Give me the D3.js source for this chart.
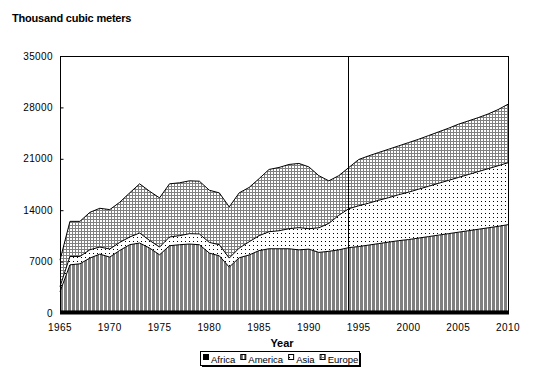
<!DOCTYPE html>
<html>
<head>
<meta charset="utf-8">
<script src="https://cdn.jsdelivr.net/npm/d3@7"></script>
<style>
  body { margin: 0; background: #fff; }
  svg text { font-family: Arial, "Liberation Sans", sans-serif; }
</style>
</head>
<body>
<div class="wrapper"></div>
<script>
var years = d3.range(1965, 2011);
var regions = ["Africa", "America", "Asia", "Europe"];
var yTicks = [0, 7000, 14000, 21000, 28000, 35000];
var xTicks = [1965, 1970, 1975, 1980, 1985, 1990, 1995, 2000, 2005, 2010];
var dividerYear = 1994;

var africa = [280, 280, 280, 280, 280, 280, 280, 280, 280, 280, 280, 280, 280, 280, 280, 280,
  280, 280, 280, 280, 280, 280, 280, 280, 280, 280, 280, 280, 280, 280, 280, 280, 280, 280, 280,
  280, 280, 280, 280, 280, 280, 280, 280, 280, 280, 280];
var america = [2620, 6280, 6420, 7200, 7740, 7330, 8240, 9020, 9250, 8560, 7650, 8880, 9020, 9110,
  9020, 7880, 7510, 5970, 7240, 7620, 8220, 8470, 8470, 8470, 8320, 8420, 7970, 8120, 8320, 8620,
  8770, 8970, 9170, 9370, 9570, 9720, 9920, 10120, 10320, 10520, 10720, 10920, 11120, 11320, 11520, 11750];
var asia = [700, 1140, 1000, 1130, 960, 1100, 1090, 1050, 1360, 1040, 1050, 1190, 1230, 1410, 1460,
  1450, 1510, 1230, 1320, 1800, 2030, 2320, 2450, 2730, 3020, 2780, 3350, 3800, 4700, 5300, 5550,
  5700, 5900, 6050, 6250, 6450, 6650, 6850, 7050, 7250, 7450, 7650, 7850, 8050, 8250, 8430];
var europe = [3600, 4780, 4780, 5100, 5280, 5370, 5470, 6010, 6700, 6700, 6700, 7240, 7200, 7200,
  7190, 7110, 7060, 6970, 7520, 7400, 7770, 8480, 8620, 8750, 8750, 8420, 7100, 5800, 5400, 5600,
  6300, 6450, 6500, 6600, 6650, 6750, 6800, 6900, 7000, 7100, 7250, 7300, 7350, 7450, 7650, 7970];

var table = years.map(function(y, i) {
  return { year: y, Africa: africa[i], America: america[i], Asia: asia[i], Europe: europe[i] };
});

var width = 545, height = 371;
var margin = {top: 56, right: 37, bottom: 58, left: 60};

var svg = d3.select(".wrapper").append("svg")
  .attr("width", width)
  .attr("height", height);

// patterns
var defs = svg.append("defs");
var pAfr = defs.append("pattern").attr("id", "p-africa").attr("patternUnits", "userSpaceOnUse")
  .attr("width", 4).attr("height", 4);
pAfr.append("rect").attr("width", 4).attr("height", 4).attr("fill", "#000");

var pAm = defs.append("pattern").attr("id", "p-america").attr("patternUnits", "userSpaceOnUse")
  .attr("width", 4).attr("height", 4);
pAm.append("rect").attr("width", 4).attr("height", 4).attr("fill", "#fff");
pAm.append("rect").attr("width", 3).attr("height", 4).attr("fill", "#808080");

var pAs = defs.append("pattern").attr("id", "p-asia").attr("patternUnits", "userSpaceOnUse")
  .attr("width", 4).attr("height", 4);
pAs.append("rect").attr("width", 4).attr("height", 4).attr("fill", "#fff");
pAs.append("rect").attr("x", 1).attr("y", 1).attr("width", 1).attr("height", 1).attr("fill", "#000");

var pEu = defs.append("pattern").attr("id", "p-europe").attr("patternUnits", "userSpaceOnUse")
  .attr("width", 3).attr("height", 3);
pEu.append("rect").attr("width", 3).attr("height", 3).attr("fill", "#fff");
pEu.append("rect").attr("width", 3).attr("height", 1).attr("fill", "#808080");
pEu.append("rect").attr("width", 1).attr("height", 3).attr("fill", "#808080");

var fills = {Africa: "url(#p-africa)", America: "url(#p-america)", Asia: "url(#p-asia)", Europe: "url(#p-europe)"};

var x = d3.scaleLinear().domain([1965, 2010]).range([margin.left, width - margin.right]);
var y = d3.scaleLinear().domain([0, 35000]).range([height - margin.bottom, margin.top]);

var series = d3.stack().keys(regions)(table);

var area = d3.area()
  .x(function(d) { return x(d.data.year); })
  .y0(function(d) { return y(d[0]); })
  .y1(function(d) { return y(d[1]); });
var topLine = d3.line()
  .x(function(d) { return x(d.data.year); })
  .y(function(d) { return y(d[1]); });

var g = svg.append("g");
g.selectAll("path.area")
  .data(series)
  .enter().append("path")
    .attr("class", "area")
    .attr("fill", function(d) { return fills[d.key]; })
    .attr("d", area);

g.selectAll("path.edge")
  .data(series)
  .enter().append("path")
    .attr("class", "edge")
    .attr("fill", "none")
    .attr("stroke", "#000")
    .attr("stroke-width", 1)
    .attr("d", topLine);

// frame
svg.append("rect")
  .attr("x", margin.left + 0.5)
  .attr("y", margin.top + 0.5)
  .attr("width", width - margin.right - margin.left)
  .attr("height", height - margin.bottom - margin.top)
  .attr("fill", "none")
  .attr("stroke", "#000");

svg.append("line")
  .attr("x1", margin.left).attr("x2", width - margin.right + 1)
  .attr("y1", y(0) + 0.5).attr("y2", y(0) + 0.5)
  .attr("stroke", "#000").attr("stroke-width", 2);

// divider line
svg.append("line")
  .attr("x1", Math.round(x(dividerYear)) - 0.5).attr("x2", Math.round(x(dividerYear)) - 0.5)
  .attr("y1", margin.top).attr("y2", y(0))
  .attr("stroke", "#000");

// y axis
var yAxis = svg.append("g")
  .attr("transform", "translate(" + (margin.left + 0.5) + ",0)")
  .call(d3.axisRight(y).tickValues(yTicks).tickSize(3).tickFormat(""));
yAxis.select(".domain").remove();

svg.append("g").selectAll("text")
  .data(yTicks)
  .enter().append("text")
    .attr("x", 53)
    .attr("y", function(d) { return y(d); })
    .attr("dy", "0.35em")
    .attr("text-anchor", "end")
    .attr("font-size", 10)
    .attr("letter-spacing", 0.4)
    .text(function(d) { return d; });

svg.append("g").selectAll("text")
  .data(xTicks)
  .enter().append("text")
    .attr("x", function(d) { return x(d); })
    .attr("y", 331)
    .attr("text-anchor", "middle")
    .attr("font-size", 10)
    .attr("letter-spacing", 0.4)
    .text(function(d) { return d; });

svg.append("text")
  .attr("x", 12).attr("y", 22)
  .attr("font-size", 11).attr("font-weight", "bold")
  .attr("letter-spacing", -0.2)
  .text("Thousand cubic meters");

svg.append("text")
  .attr("x", x(1987.3)).attr("y", 347)
  .attr("text-anchor", "middle")
  .attr("font-size", 11).attr("font-weight", "bold")
  .text("Year");

// legend
var legend = svg.append("g");
var lx = 200, ly = 351, lw = 159, lh = 14;
legend.append("rect").attr("x", lx + 2).attr("y", ly + 2).attr("width", lw).attr("height", lh).attr("fill", "#000");
legend.append("rect").attr("x", lx + 0.5).attr("y", ly + 0.5).attr("width", lw).attr("height", lh)
  .attr("fill", "#fff").attr("stroke", "#000");

var cx = lx + 3;
regions.forEach(function(r) {
  legend.append("rect")
    .attr("x", cx + 0.5).attr("y", ly + 3.5).attr("width", 5).attr("height", 5)
    .attr("fill", fills[r]).attr("stroke", "#000");
  var t = legend.append("text")
    .attr("x", cx + 8).attr("y", ly + 12)
    .attr("font-size", 9.5)
    .text(r);
  cx += 8 + t.node().getComputedTextLength() + 5;
});
</script>
</body>
</html>
